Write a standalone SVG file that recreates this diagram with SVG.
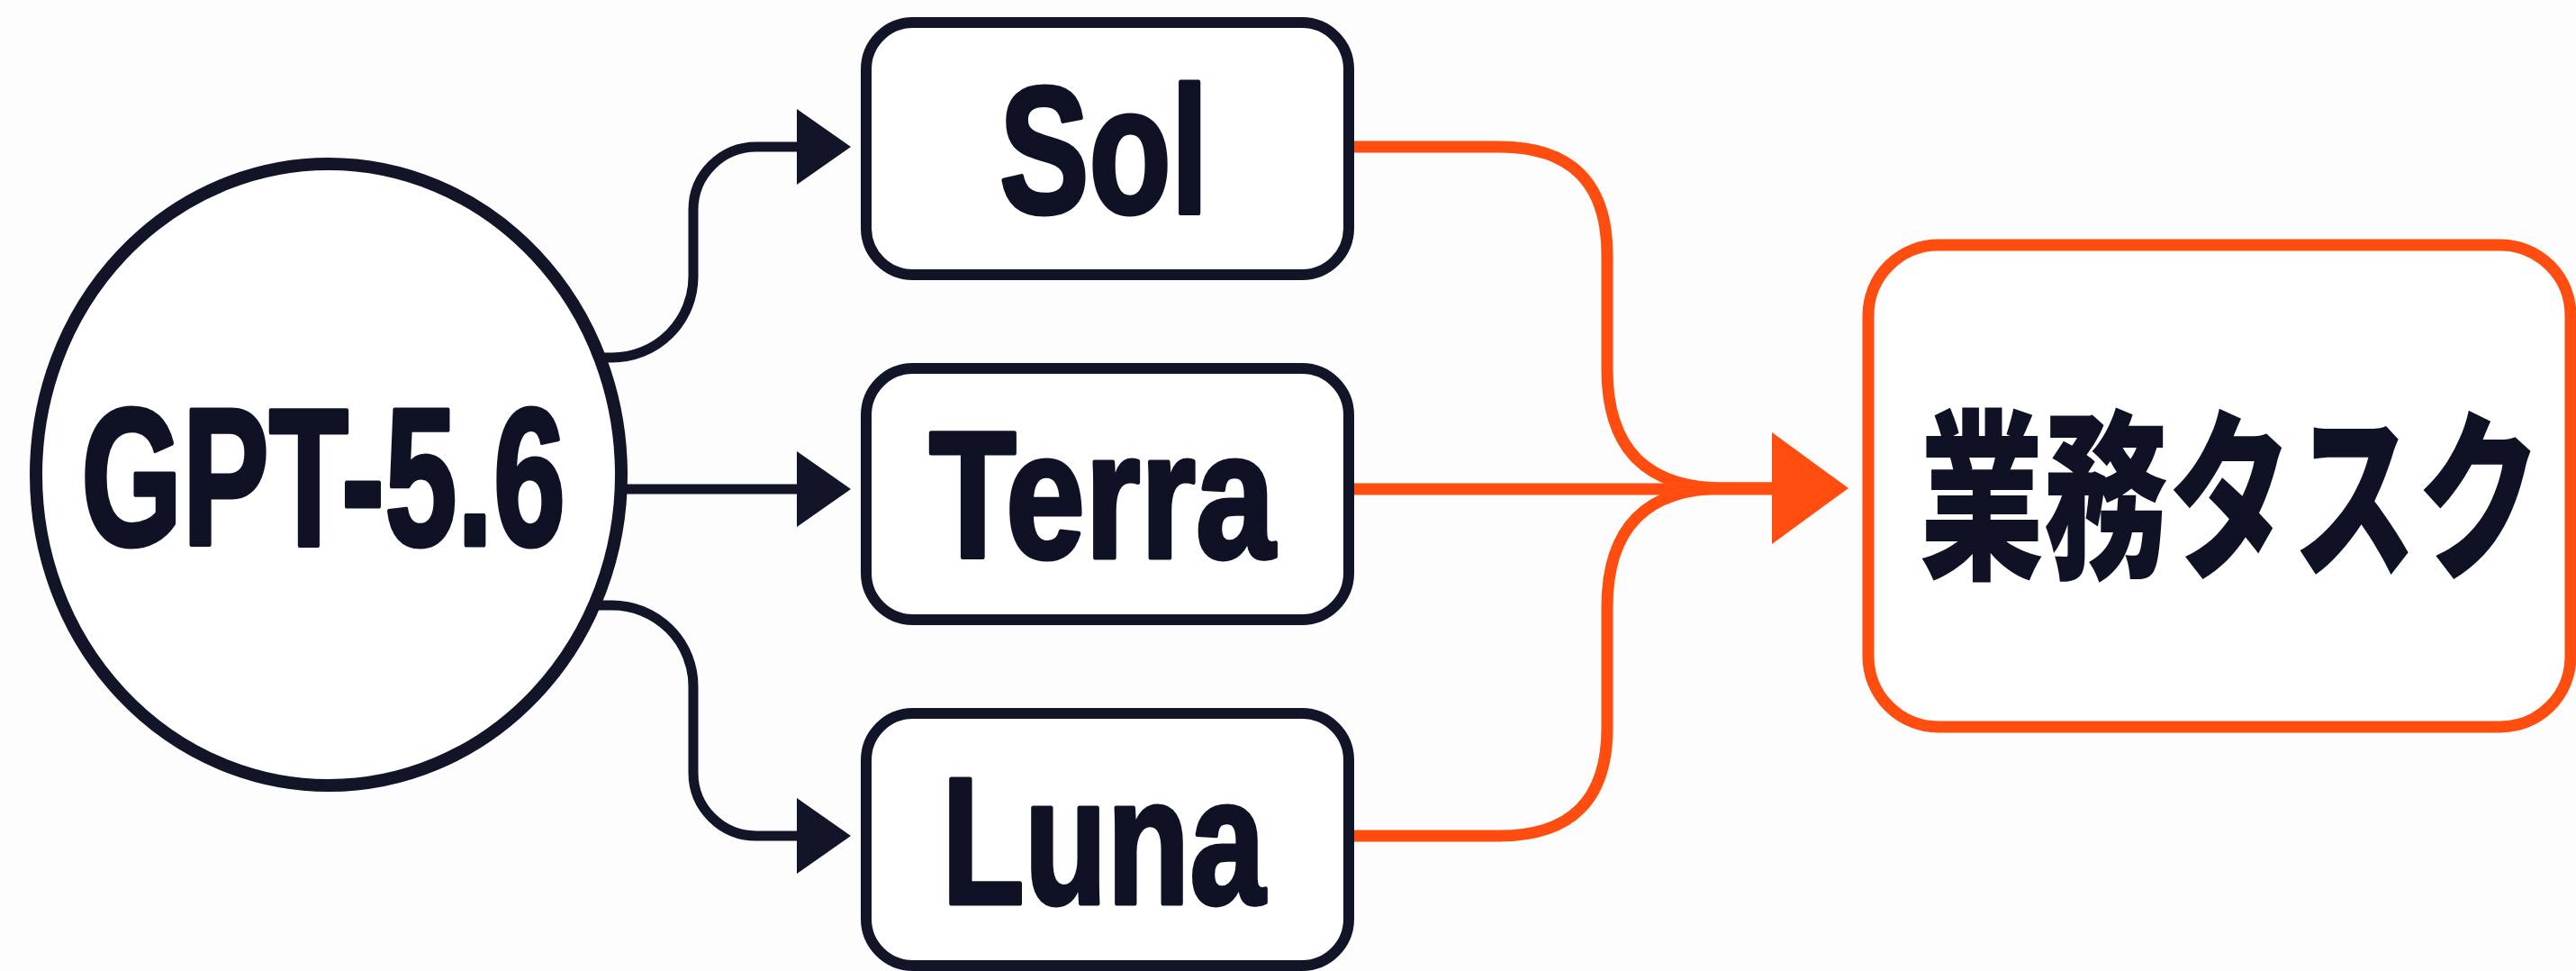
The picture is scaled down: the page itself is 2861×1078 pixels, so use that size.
<svg xmlns="http://www.w3.org/2000/svg" width="2861" height="1078" viewBox="0 0 2861 1078">
<style>
.bg{fill:#fdfdfd}
.node{fill:#ffffff;stroke:#121527;stroke-width:12}
.task{fill:#ffffff;stroke:#ff4d10;stroke-width:13}
.lbl{font-family:"Liberation Sans",Arial,sans-serif;font-weight:700;fill:#0f1225;stroke:#0f1225;stroke-width:5;stroke-linejoin:round}
.jp{font-family:"Noto Sans CJK JP","Noto Sans CJK SC",sans-serif;font-weight:900;fill:#0f1225}
.dk{fill:none;stroke:#121527;stroke-width:11}
.dkh{fill:#121527}
.or{fill:none;stroke:#ff4d10;stroke-width:13}
.orh{fill:#ff4d10}
</style>
<rect class="bg" x="0" y="0" width="2861" height="1078"/>
<g id="connectors">
<path class="dk" d="M 664 397 H 680 A 90 90 0 0 0 770 307 V 233 A 70 70 0 0 1 840 163 H 892"/>
<polygon class="dkh" points="885,121 945,163 885,205"/>
<path class="dk" d="M 686 543 H 892"/>
<polygon class="dkh" points="885,501 945,543 885,585"/>
<path class="dk" d="M 658 672 H 680 A 90 90 0 0 1 770 762 V 858 A 70 70 0 0 0 840 928 H 892"/>
<polygon class="dkh" points="885,886 945,928 885,970"/>
<path class="or" d="M 1504 163 H 1665 Q 1785 163 1785 283 V 410 Q 1785 542 1915 542 H 1975"/>
<path class="or" d="M 1504 543 H 1975"/>
<path class="or" d="M 1504 928 H 1665 Q 1785 928 1785 808 V 674 Q 1785 542 1915 542 H 1975"/>
<polygon class="orh" points="1968,480 2053,542 1968,604"/>
</g>
<g id="gpt">
<ellipse cx="365" cy="527" rx="325" ry="345" fill="#ffffff" stroke="#121527" stroke-width="14"/>
<text class="lbl" x="90" y="605" font-size="218" textLength="538" lengthAdjust="spacingAndGlyphs">GPT-5.6</text>
</g>
<g id="sol">
<rect class="node" x="962" y="25" width="536" height="280" rx="52"/>
<text class="lbl" x="1110" y="236" font-size="200" textLength="232" lengthAdjust="spacingAndGlyphs">Sol</text>
</g>
<g id="terra">
<rect class="node" x="962" y="409" width="536" height="279" rx="52"/>
<text class="lbl" x="1032" y="619" font-size="200" textLength="384" lengthAdjust="spacingAndGlyphs">Terra</text>
</g>
<g id="luna">
<rect class="node" x="962" y="792" width="536" height="280" rx="52"/>
<text class="lbl" x="1046" y="1003" font-size="200" textLength="359" lengthAdjust="spacingAndGlyphs">Luna</text>
</g>
<g id="task">
<rect class="task" x="2075" y="272" width="780" height="535" rx="78"/>
<text class="jp" transform="translate(2132 627) scale(0.68 1)" x="0" y="0" font-size="203">業務タスク</text>
</g>
</svg>
